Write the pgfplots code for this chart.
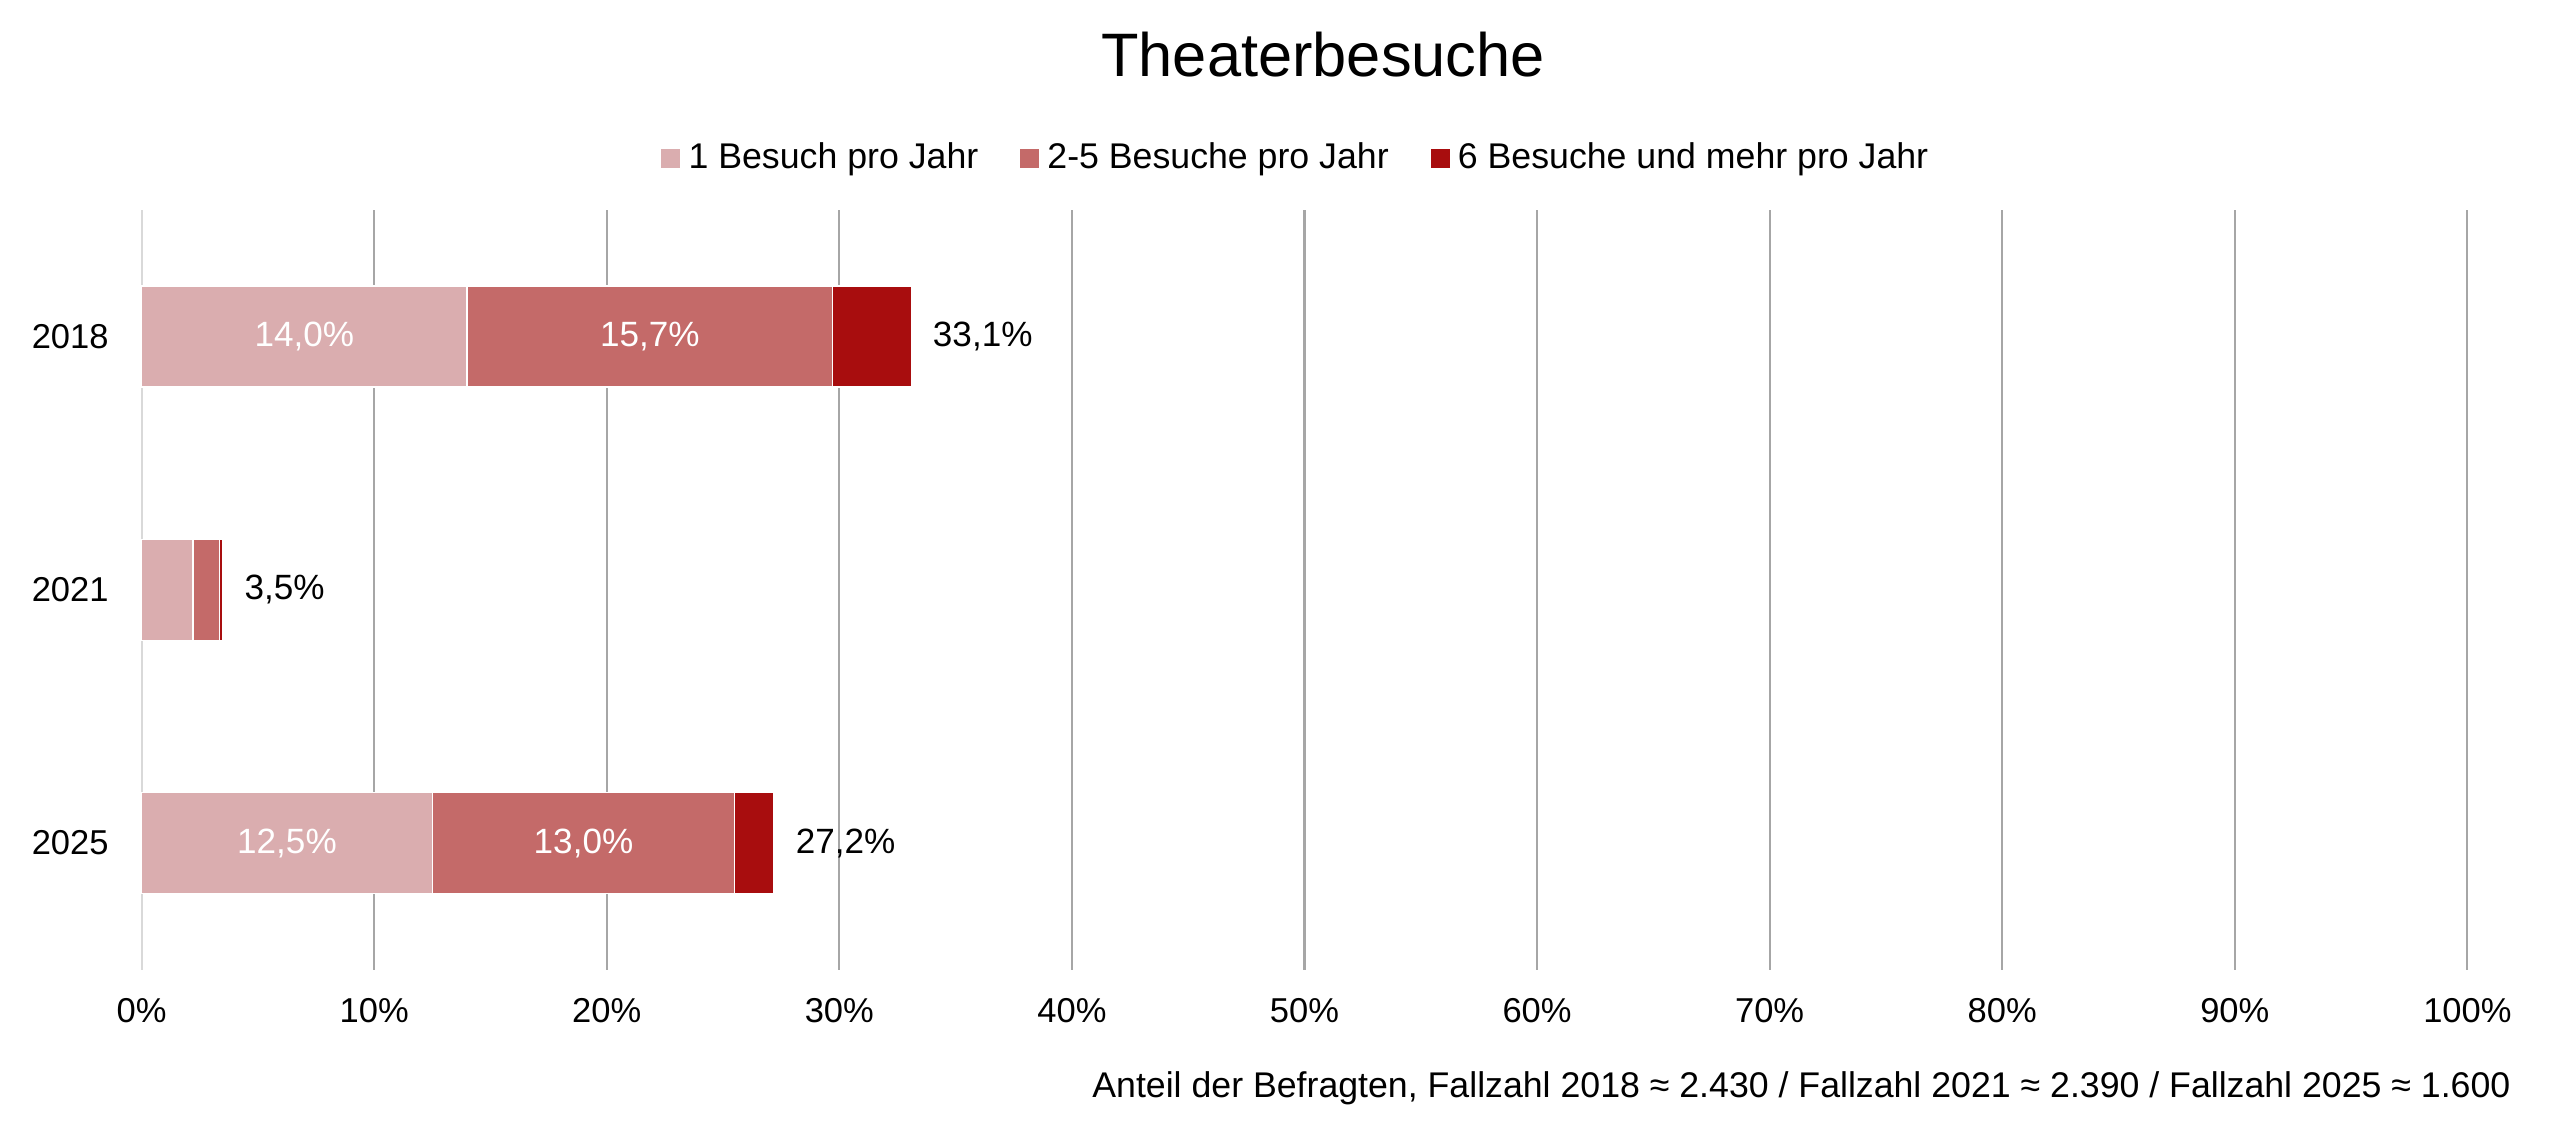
\documentclass[border=0pt]{standalone}
\usepackage{pgfplots}
\pgfplotsset{compat=1.18}
\usepackage{fontspec}
\setmainfont{Liberation Sans}
\definecolor{c1}{HTML}{DAADAF}
\definecolor{c2}{HTML}{C46A69}
\definecolor{c3}{HTML}{A80D0E}
\definecolor{gridc}{HTML}{A6A6A6}
\definecolor{zeroc}{HTML}{D9D9D9}
\newcommand{\fs}{\fontsize{11.7}{14}\selectfont}
\newcommand{\fl}{\fontsize{11.9}{14}\selectfont}
\newcommand{\fg}{\fontsize{12.1}{14.5}\selectfont}
\begin{document}
\fs
\begin{tikzpicture}
\path[use as bounding box, fill=white] (0,0) rectangle (867.8pt,388.8pt);
\begin{axis}[
  at={(48pt,60.1pt)}, anchor=south west,
  scale only axis, width=788.4pt, height=257.5pt,
  xbar stacked, bar width=34.2pt,
  xmin=0, xmax=100, ymin=-0.5, ymax=2.5,
  xtick={10,20,...,100},
  xticklabels={10\%,20\%,30\%,40\%,50\%,60\%,70\%,80\%,90\%,100\%},
  extra x ticks={0}, extra x tick labels={0\%},
  extra x tick style={grid style={zeroc, line width=0.7pt}},
  ytick={0,1,2}, yticklabels={2025,2021,2018},
  xmajorgrids, grid style={gridc, line width=0.7pt},
  major tick length=0pt,
  axis line style={draw=none},
  xticklabel style={anchor=base, yshift=-17.9pt, inner sep=0pt},
  yticklabel style={anchor=east, xshift=-11pt, inner sep=0pt},
  tick label style={font=\fs},
  legend columns=3,
  legend style={at={(0.5,1)}, anchor=center, xshift=-2.3pt, yshift=17.6pt,
    draw=none, fill=none, font=\fg,
    /tikz/every even column/.append style={column sep=12.2pt}},
  legend image code/.code={\fill[#1, draw=none] (0pt,-3.2pt) rectangle (6.4pt,3.2pt); \path (7pt,0pt);},
  every axis plot/.append style={draw=white, line width=0.5pt},
  clip=false,
]
\addplot[fill=c1] coordinates {(12.5,0) (2.2,1) (14.0,2)};
\addplot[fill=c2] coordinates {(13.0,0) (1.15,1) (15.7,2)};
\addplot[fill=c3] coordinates {(1.7,0) (0.15,1) (3.4,2)};
\legend{1 Besuch pro Jahr, 2-5 Besuche pro Jahr, 6 Besuche und mehr pro Jahr}
\coordinate (a1) at (axis cs:7.0,2);
\coordinate (a2) at (axis cs:21.85,2);
\coordinate (b1) at (axis cs:6.25,0);
\coordinate (b2) at (axis cs:19.0,0);
\coordinate (t1) at (axis cs:33.1,2);
\coordinate (t2) at (axis cs:3.5,1);
\coordinate (t3) at (axis cs:27.2,0);
\end{axis}
\node[text=white, font=\fl] at (a1) {14,0\%};
\node[text=white, font=\fl] at (a2) {15,7\%};
\node[text=white, font=\fl] at (b1) {12,5\%};
\node[text=white, font=\fl] at (b2) {13,0\%};
\node[anchor=west, inner sep=0pt, xshift=7.1pt, font=\fl] at (t1) {33,1\%};
\node[anchor=west, inner sep=0pt, xshift=7.1pt, font=\fl] at (t2) {3,5\%};
\node[anchor=west, inner sep=0pt, xshift=7.1pt, font=\fl] at (t3) {27,2\%};
\node[anchor=base, inner sep=0pt, font=\fontsize{20.8}{24}\selectfont] at (448.5pt,362.8pt) {Theaterbesuche};
\node[anchor=base east, inner sep=0pt, font=\fg] at (851.2pt,16.6pt) {Anteil der Befragten, Fallzahl 2018 ≈ 2.430 / Fallzahl 2021 ≈ 2.390 / Fallzahl 2025 ≈ 1.600};
\end{tikzpicture}
\end{document}
